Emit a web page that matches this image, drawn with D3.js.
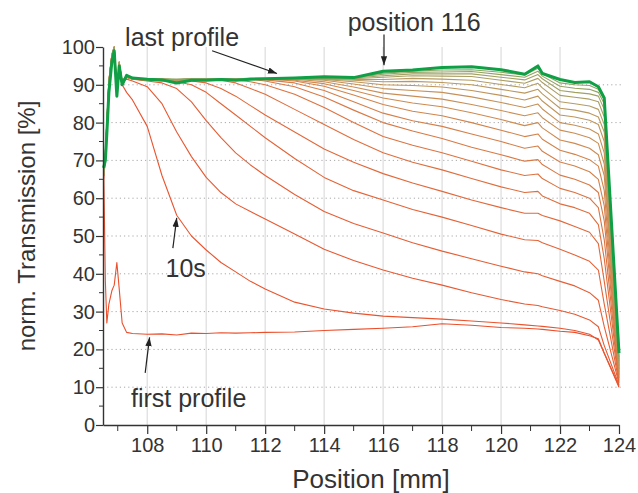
<!DOCTYPE html>
<html>
<head>
<meta charset="utf-8">
<script src="https://cdn.jsdelivr.net/npm/d3@7"></script>
<style>
  body { margin: 0; background: #fff; }
  text { font-family: "Liberation Sans", Arial, sans-serif; fill: #333; }
</style>
</head>
<body>
<div id="container"></div>
<script>
// sample positions (mm) shared by all profiles
const positions = [106.52, 106.58, 106.63, 106.7, 106.8, 106.88, 106.97, 107.05, 107.15, 107.3, 107.5,
  108, 108.5, 109, 109.5, 110, 110.5, 111, 111.5, 112, 113, 114, 115, 116, 117, 118, 119, 120,
  120.8, 121.25, 121.4, 122, 122.5, 123, 123.3, 123.5, 124];

// transmission profiles, first (bottom) to last (top)
const firstProfile = [70, 38, 27, 32, 35.5, 37, 43, 36, 27, 24.5, 24.2, 24, 24.1, 23.8, 24.3, 24.2, 24.4, 24.3, 24.4, 24.5, 24.6, 25, 25.3, 25.6, 26, 26.8, 26.4, 25.8, 25.6, 25.4, 25.3, 24.8, 24.5, 23.6, 22.8, 19, 10];
const profile10s = [66, 71, 78, 90, 97, 100, 90, 93, 90, 88, 86, 79, 66, 55.5, 50, 46.3, 43, 40.5, 38, 36, 32.5, 30.7, 29.6, 28.8, 28.4, 28, 27.5, 27, 26.5, 26.2, 26.1, 25.6, 25, 24, 22.5, 19, 10.3];
const laterProfiles = [
  [65, 70, 79, 89, 98, 97, 91, 94, 91, 91.5, 91, 89.5, 85, 77.5, 71, 65.5, 61.5, 58.5, 56.5, 54.5, 50.5, 46.5, 43.5, 41, 38.8, 37, 35, 33.2, 32, 31.6, 31.3, 30.3, 29.3, 27.8, 26, 21, 10.6],
  [66, 72, 80, 91, 98, 99, 90, 95, 91, 92, 91.5, 91, 90.5, 89, 85.5, 80.5, 76, 72, 68.8, 66, 61, 56.5, 53.3, 50.8, 48.2, 46, 44, 42, 40.5, 40, 39.5, 38, 36.8, 35, 33, 26, 11],
  [67, 71, 79, 90, 97, 100, 89, 95, 90.5, 92, 91.5, 91.3, 91, 90.8, 90, 88, 85, 82, 79, 76, 70.5, 65.5, 62, 59.5, 57, 55, 52.8, 50.5, 49, 48.8, 48.2, 46.5, 45, 43.3, 41, 32, 11.3],
  [66, 70, 78, 89, 96, 99, 88, 94, 90, 92, 91.6, 91.4, 91.2, 91, 91, 90.5, 89, 87, 84.5, 82, 77.5, 73, 69.5, 66.5, 64, 61.8, 59.5, 57.5, 56, 56, 55.4, 54, 52.5, 51, 48, 38, 11.7],
  [67, 71, 79, 90, 97, 98, 89, 95, 91, 92.2, 91.5, 91.3, 91.5, 91, 91.4, 91.3, 91.2, 90.5, 89, 87.5, 83.5, 79.5, 75.5, 72, 69.5, 67.5, 65.2, 63, 61.5, 61.8, 60.6, 58.5, 57.5, 56, 53, 44, 12],
  [66, 72, 80, 91, 98, 100, 88, 96, 90, 92, 91.7, 91.2, 91.4, 91.1, 91.5, 91.3, 91.4, 91.3, 90.8, 90, 87.5, 84, 80, 76.3, 74, 72, 69.8, 67.5, 66, 66.4, 65.2, 62.6, 61.5, 60, 57.5, 49, 12.4],
  [67, 71, 79, 90, 97, 99, 89, 95, 91, 92.3, 91.5, 91.4, 91.3, 91.2, 91.4, 91.5, 91.3, 91.4, 91.5, 91, 89.5, 86.8, 83.3, 80, 77.8, 75.8, 73.5, 71.5, 69.8, 70.2, 68.9, 66.1, 65, 63.5, 61.5, 54, 12.8],
  [66, 71, 80, 91, 98, 98, 88, 95, 90.5, 92, 91.6, 91.3, 91.5, 91, 91.3, 91.4, 91.5, 91.3, 91.6, 91.3, 90.5, 88.5, 85.5, 82.5, 80.5, 79, 77, 75, 73.2, 73.8, 72.4, 69.6, 68.5, 67, 65, 58, 13.2],
  [67, 72, 79, 90, 97, 100, 87, 96, 91, 92.2, 91.5, 91.4, 91.2, 91.3, 91.5, 91.3, 91.4, 91.5, 91.4, 91.6, 91, 89.6, 87.3, 84.8, 83, 81.8, 80, 78, 76.3, 77, 75.6, 72.7, 71.6, 70.2, 68.5, 62, 13.6],
  [66, 71, 78, 89, 97, 99, 88, 95, 90.5, 92.4, 91.6, 91.3, 91.4, 91.2, 91.3, 91.5, 91.3, 91.4, 91.6, 91.4, 91.2, 90.3, 88.5, 86.5, 85.2, 84.2, 82.6, 80.8, 79.2, 80, 78.6, 75.4, 74.5, 73.2, 71.5, 66, 14],
  [67, 71, 79, 90, 97, 98, 89, 95, 91, 92, 91.7, 91.5, 91.3, 91.4, 91.4, 91.3, 91.5, 91.4, 91.5, 91.6, 91.5, 90.8, 89.4, 87.8, 87, 86.2, 84.8, 83.2, 81.8, 82.6, 81.3, 78, 77.2, 76, 74.5, 69, 14.4],
  [66, 72, 80, 91, 98, 100, 87, 96, 90.5, 92.3, 91.5, 91.4, 91.5, 91.2, 91.3, 91.4, 91.4, 91.5, 91.5, 91.5, 91.6, 91.2, 90.2, 89, 88.5, 88, 86.8, 85.3, 84, 84.9, 83.6, 80, 79.3, 78.3, 77, 72, 14.8],
  [67, 71, 79, 90, 97, 99, 88, 95, 91, 92.1, 91.6, 91.3, 91.4, 91.3, 91.5, 91.3, 91.5, 91.4, 91.6, 91.5, 91.6, 91.4, 90.8, 90, 89.8, 89.4, 88.5, 87.2, 86, 87, 85.7, 82, 81.5, 80.6, 79.5, 75, 15.2],
  [66, 71, 79, 90, 97, 98, 88, 95, 90.5, 92.2, 91.5, 91.5, 91.3, 91.4, 91.4, 91.5, 91.3, 91.5, 91.5, 91.6, 91.5, 91.5, 91.2, 90.8, 90.9, 90.6, 90, 88.8, 87.8, 88.8, 87.6, 83.8, 83.3, 82.5, 81.5, 77.5, 15.6],
  [67, 72, 80, 91, 98, 100, 87, 96, 91, 92, 91.7, 91.4, 91.5, 91.3, 91.5, 91.4, 91.6, 91.5, 91.6, 91.5, 91.6, 91.6, 91.4, 91.4, 91.7, 91.5, 91.2, 90.1, 89.2, 90.4, 89.2, 85.5, 85, 84.4, 83.5, 79.5, 16],
  [66, 71, 79, 90, 97, 99, 88, 95, 90.5, 92.3, 91.6, 91.5, 91.4, 91.4, 91.5, 91.5, 91.5, 91.6, 91.5, 91.6, 91.7, 91.6, 91.6, 92, 92.4, 92.3, 92.2, 91.2, 90.4, 91.7, 90.6, 87.2, 86.7, 86.2, 85.5, 81.5, 16.5],
  [67, 71, 79, 90, 97, 98, 89, 95, 91, 92.2, 91.7, 91.5, 91.5, 91.3, 91.6, 91.4, 91.6, 91.5, 91.6, 91.6, 91.7, 91.8, 91.8, 92.4, 92.9, 92.9, 92.9, 92, 91.3, 92.7, 91.6, 88.5, 88, 87.6, 87, 83.5, 17],
  [66, 72, 80, 91, 98, 100, 87, 96, 90.5, 92.4, 91.6, 91.4, 91.6, 91.4, 91.5, 91.6, 91.5, 91.6, 91.7, 91.6, 91.8, 91.9, 91.9, 92.8, 93.3, 93.4, 93.5, 92.7, 92, 93.6, 92.3, 89.6, 89.1, 88.8, 88, 85, 17.5],
  [67, 71, 79, 90, 97, 99, 88, 95, 91, 92.3, 91.7, 91.5, 91.5, 91.5, 91.6, 91.5, 91.6, 91.6, 91.7, 91.7, 91.8, 92, 92, 93.1, 93.6, 93.9, 94, 93.3, 92.6, 94.4, 93, 90.5, 90, 89.8, 88.8, 86, 18]
];
const lastProfile = [68, 70, 77, 88, 96, 99, 87, 95, 90, 92.5, 91.8, 91.5, 91.3, 90.5, 91.2, 91.2, 91.4, 91.2, 91.5, 91.6, 91.8, 92.1, 91.9, 93.6, 93.9, 94.6, 94.8, 94, 92.8, 95, 93, 91.4, 90.6, 90.8, 89.5, 86.5, 19];

const profiles = [firstProfile, profile10s, ...laterProfiles, lastProfile];

const xTicks = [108, 110, 112, 114, 116, 118, 120, 122, 124];
const xMinorTicks = [107, 109, 111, 113, 115, 117, 119, 121, 123];
const yTicks = [0, 10, 20, 30, 40, 50, 60, 70, 80, 90, 100];
const yMinorTicks = [5, 15, 25, 35, 45, 55, 65, 75, 85, 95];

// annotations: label anchor and arrow (from -> tip) in data units
const notes = [
  {text: "last profile", at: [107.25, 100.3], from: [110.2, 99.0], to: [112.4, 93.0]},
  {text: "position 116", at: [114.8, 104.2], from: [116.03, 103.3], to: [116.03, 95.2]},
  {text: "10s", at: [108.62, 39.2], from: [108.87, 46.8], to: [109.0, 54.8]},
  {text: "first profile", at: [107.45, 4.8], from: [107.93, 13.8], to: [108.08, 23.2]}
];

const width = 638, height = 493;

const svg = d3.select("#container")
  .append("svg")
  .attr("width", width)
  .attr("height", height);

const x = d3.scaleLinear().domain([106.5, 124]).range([103, 619]);
const y = d3.scaleLinear().domain([0, 100]).range([425, 47]);

// grid
svg.append("g")
  .selectAll("line")
  .data(xTicks.filter(d => d < 124))
  .join("line")
  .attr("x1", d => x(d)).attr("x2", d => x(d))
  .attr("y1", y(0)).attr("y2", y(100))
  .attr("stroke", "#dcdcdc")
  .attr("stroke-width", 1.2);

svg.append("g")
  .selectAll("line")
  .data(yTicks.filter(d => d > 0 && d < 100))
  .join("line")
  .attr("x1", x(106.5)).attr("x2", x(124) + 2)
  .attr("y1", d => y(d)).attr("y2", d => y(d))
  .attr("stroke", "#a8a8a8")
  .attr("stroke-width", 1)
  .attr("stroke-dasharray", "1.2,3");

// profiles
const color = d3.scaleLinear()
  .domain([0, 5, 11, 16, 20, 21])
  .range(["#eb4f2c", "#e2683a", "#cf8a50", "#b59c63", "#8da565", "#0f9f45"])
  .interpolate(d3.interpolateRgb);

const line = d3.line()
  .x((d, i) => x(positions[i]))
  .y(d => y(d));

svg.append("g")
  .selectAll("path")
  .data(profiles)
  .join("path")
  .attr("d", d => line(d))
  .attr("fill", "none")
  .attr("stroke", (d, i) => color(i))
  .attr("stroke-width", (d, i) => i == profiles.length - 1 ? 3 : 1.1)
  .attr("stroke-linejoin", "round");

// axes
const xAxis = svg.append("g")
  .attr("transform", `translate(0,${y(0)})`)
  .call(d3.axisBottom(x).tickValues(xTicks).tickSize(9).tickSizeOuter(0).tickPadding(4));
xAxis.append("g")
  .selectAll("line")
  .data(xMinorTicks)
  .join("line")
  .attr("x1", d => x(d)).attr("x2", d => x(d))
  .attr("y1", 0).attr("y2", 6)
  .attr("stroke", "#333");

const yAxis = svg.append("g")
  .attr("transform", `translate(${x(106.5)},0)`)
  .call(d3.axisLeft(y).tickValues(yTicks).tickSize(7).tickSizeOuter(0).tickPadding(1));
yAxis.append("g")
  .selectAll("line")
  .data(yMinorTicks)
  .join("line")
  .attr("x1", 0).attr("x2", -4)
  .attr("y1", d => y(d)).attr("y2", d => y(d))
  .attr("stroke", "#333");

[xAxis, yAxis].forEach(a => {
  a.select(".domain").attr("stroke", "#333").attr("stroke-width", 1.4);
  a.selectAll(".tick line").attr("stroke", "#333").attr("stroke-width", 1.2);
  a.selectAll(".tick text")
    .attr("font-size", 20)
    .attr("font-family", "'Liberation Sans', Arial, sans-serif")
    .attr("fill", "#333");
});

// axis titles
svg.append("text")
  .attr("x", 371).attr("y", 488)
  .attr("text-anchor", "middle")
  .attr("font-size", 26)
  .text("Position [mm]");

svg.append("text")
  .attr("transform", `translate(35,226) rotate(-90)`)
  .attr("text-anchor", "middle")
  .attr("font-size", 24)
  .text("norm. Transmission [%]");

// annotations
const defs = svg.append("defs");
defs.append("marker")
  .attr("id", "arrow")
  .attr("viewBox", "0 0 10 10")
  .attr("refX", 10).attr("refY", 5)
  .attr("markerWidth", 9).attr("markerHeight", 9)
  .attr("markerUnits", "userSpaceOnUse")
  .attr("orient", "auto")
  .append("path")
  .attr("d", "M0,1.5 L10,5 L0,8.5 Z")
  .attr("fill", "#222");

const note = svg.append("g")
  .selectAll("g")
  .data(notes)
  .join("g");

note.append("line")
  .attr("x1", d => x(d.from[0])).attr("y1", d => y(d.from[1]))
  .attr("x2", d => x(d.to[0])).attr("y2", d => y(d.to[1]))
  .attr("stroke", "#222")
  .attr("stroke-width", 1.2)
  .attr("marker-end", "url(#arrow)");

note.append("text")
  .attr("x", d => x(d.at[0])).attr("y", d => y(d.at[1]))
  .attr("font-size", 25)
  .text(d => d.text);
</script>
</body>
</html>
